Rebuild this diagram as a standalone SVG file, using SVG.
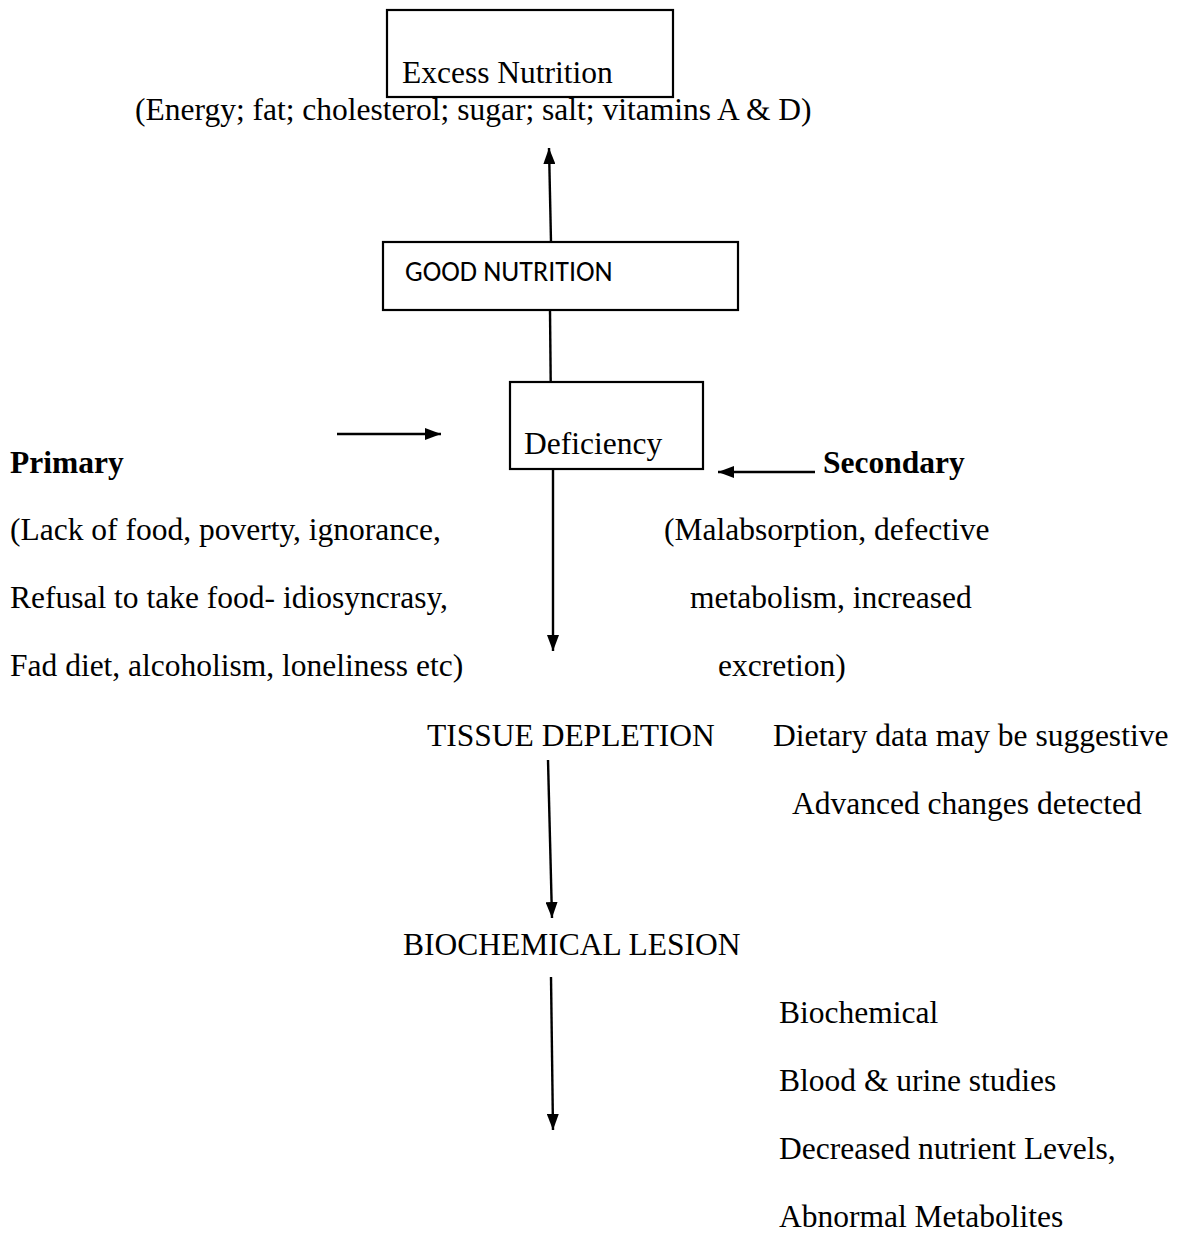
<svg xmlns="http://www.w3.org/2000/svg" width="1183" height="1233" viewBox="0 0 1183 1233">
<style>
  .t { font-family: "Liberation Serif", "Times New Roman", serif; font-size: 31.5px; fill: #000; }
  .b { font-weight: bold; }
  .s { font-family: Carlito, Calibri, "Liberation Sans", Arial, sans-serif; font-size: 28px; fill: #000; }
  .box { fill: #fff; stroke: #000; stroke-width: 2.2; }
  .ln { stroke: #000; stroke-width: 2.4; fill: none; marker-end: url(#ah); }
</style>
<defs>
  <marker id="ah" viewBox="0 0 16 12" refX="16" refY="6" markerWidth="16" markerHeight="12" markerUnits="userSpaceOnUse" orient="auto">
    <path d="M0,0 L16,6 L0,12 Z" fill="#000"/>
  </marker>
</defs>
<rect width="1183" height="1233" fill="#fff"/>

<g id="connectors">
  <line class="ln" x1="551" y1="242" x2="549" y2="148"/>
  <line class="ln" x1="550" y1="310" x2="551" y2="414"/>
  <line class="ln" x1="337" y1="434" x2="441" y2="434"/>
  <line class="ln" x1="815" y1="472" x2="718" y2="472"/>
  <line class="ln" x1="553" y1="469" x2="553" y2="651"/>
  <line class="ln" x1="548" y1="760" x2="552" y2="918"/>
  <line class="ln" x1="551" y1="977" x2="553" y2="1130"/>
</g>

<g id="excess-nutrition">
  <rect class="box" x="387" y="10" width="286" height="87"/>
  <text class="t" x="402" y="83">Excess Nutrition</text>
  <text class="t" x="135" y="120">(Energy; fat; cholesterol; sugar; salt; vitamins A &amp; D)</text>
</g>

<g id="good-nutrition">
  <rect class="box" x="383" y="242" width="355" height="68"/>
  <text class="s" x="405" y="281">GOOD NUTRITION</text>
</g>

<g id="deficiency">
  <rect class="box" x="510" y="382" width="193" height="87"/>
  <text class="t" x="524" y="454">Deficiency</text>
</g>

<g id="primary">
  <text class="t b" x="10" y="473">Primary</text>
  <text class="t" x="10" y="540">(Lack of food, poverty, ignorance,</text>
  <text class="t" x="10" y="608">Refusal to take food- idiosyncrasy,</text>
  <text class="t" x="10" y="676">Fad diet, alcoholism, loneliness etc)</text>
</g>

<g id="secondary">
  <text class="t b" x="823" y="473">Secondary</text>
  <text class="t" x="664" y="540">(Malabsorption, defective</text>
  <text class="t" x="690" y="608">metabolism, increased</text>
  <text class="t" x="718" y="676">excretion)</text>
</g>

<g id="tissue-depletion">
  <text class="t" x="427" y="746">TISSUE DEPLETION</text>
  <text class="t" x="773" y="746">Dietary data may be suggestive</text>
  <text class="t" x="792" y="814">Advanced changes detected</text>
</g>

<g id="biochemical-lesion">
  <text class="t" x="403" y="955">BIOCHEMICAL LESION</text>
  <text class="t" x="779" y="1023">Biochemical</text>
  <text class="t" x="779" y="1091">Blood &amp; urine studies</text>
  <text class="t" x="779" y="1159">Decreased nutrient Levels,</text>
  <text class="t" x="779" y="1227">Abnormal Metabolites</text>
</g>
</svg>
